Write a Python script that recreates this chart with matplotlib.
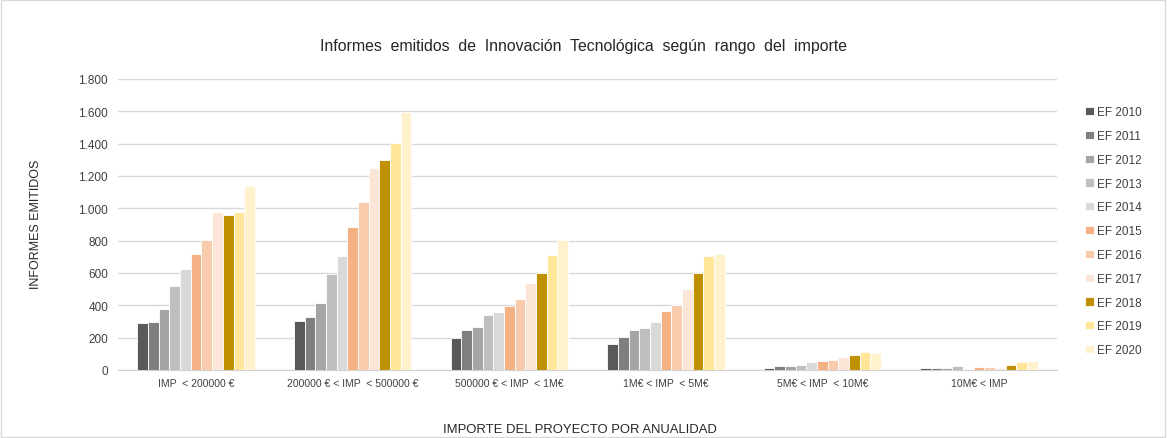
import matplotlib
matplotlib.use("Agg")
import matplotlib.pyplot as plt
import numpy as np
from matplotlib.patches import Rectangle
from matplotlib.ticker import FuncFormatter

plt.rcParams["font.family"] = ["Liberation Sans", "DejaVu Sans"]

categories = ["IMP  < 200000 €", "200000 € < IMP  < 500000 €", "500000 € < IMP  < 1M€",
              "1M€ < IMP  < 5M€", "5M€ < IMP  < 10M€", "10M€ < IMP"]
years = ["EF 2010", "EF 2011", "EF 2012", "EF 2013", "EF 2014", "EF 2015",
         "EF 2016", "EF 2017", "EF 2018", "EF 2019", "EF 2020"]

# rows = years, columns = categories
ef2010 = [288, 305, 200, 158, 14, 10]
ef2011 = [298, 327, 245, 204, 25, 10]
ef2012 = [374, 416, 265, 247, 25, 14]
ef2013 = [521, 593, 337, 261, 31, 23]
ef2014 = [625, 706, 356, 294, 49, 5]
ef2015 = [720, 885, 395, 364, 56, 16]
ef2016 = [802, 1041, 436, 399, 62, 18]
ef2017 = [979, 1251, 535, 500, 78, 14]
ef2018 = [957, 1298, 597, 597, 93, 29]
ef2019 = [975, 1405, 708, 706, 111, 49]
ef2020 = [1140, 1598, 805, 720, 105, 54]
series = [ef2010, ef2011, ef2012, ef2013, ef2014, ef2015,
          ef2016, ef2017, ef2018, ef2019, ef2020]

colors = ["#595959", "#7f7f7f", "#a5a5a5", "#bfbfbf", "#d9d9d9", "#f4b183",
          "#f8cbad", "#fbe5d6", "#bf9000", "#ffe699", "#fff2cc"]

fig = plt.figure(figsize=(11.67, 4.39), dpi=100)
ax = fig.add_axes([0.101, 0.155, 0.805, 0.663])

x = np.arange(len(categories))
n = len(series)
group_w = 0.75
w = group_w / n
for i, (vals, c, lab) in enumerate(zip(series, colors, years)):
    ax.bar(x - group_w / 2 + w * (i + 0.5), vals, width=w, color=c,
           edgecolor="white", linewidth=0.6, label=lab, zorder=3)

ax.set_xlim(-0.5, len(categories) - 0.5)
ax.set_ylim(0, 1800)
ax.set_yticks(np.arange(0, 1801, 200))
ax.yaxis.set_major_formatter(FuncFormatter(lambda v, p: f"{int(v):,}".replace(",", ".")))
ax.grid(axis="y", color="#d9d9d9", linewidth=1, zorder=0)
for s in ["top", "right", "left"]:
    ax.spines[s].set_visible(False)
ax.spines["bottom"].set_color("#d0d0d0")
ax.tick_params(axis="both", length=0, colors="#404040")
ax.tick_params(axis="y", labelsize=8.5, pad=7)
ax.set_xticks(x)
ax.set_xticklabels(categories, fontsize=7.5)
ax.tick_params(axis="x", pad=6)

fig.text(0.5, 0.895, "Informes  emitidos  de  Innovación  Tecnológica  según  rango  del  importe",
         ha="center", va="center", fontsize=11.4, color="#262626")
fig.text(0.031, 0.49, "INFORMES EMITIDOS", rotation=90, ha="center", va="center",
         fontsize=9, color="#262626")
fig.text(0.497, 0.02, "IMPORTE DEL PROYECTO POR ANUALIDAD", ha="center", va="center",
         fontsize=9.4, color="#262626")

handles, labels = ax.get_legend_handles_labels()
fig.legend(handles, labels, loc="upper left", bbox_to_anchor=(0.921, 0.78),
           frameon=False, fontsize=8.5, handlelength=0.7, handleheight=0.7,
           handletextpad=0.3, labelspacing=1.0, labelcolor="#404040")

fig.patches.append(Rectangle((0.001, 0.002), 0.997, 0.995, transform=fig.transFigure,
                             fill=False, edgecolor="#d9d9d9", linewidth=1))

fig.savefig("out.png", dpi=100)
